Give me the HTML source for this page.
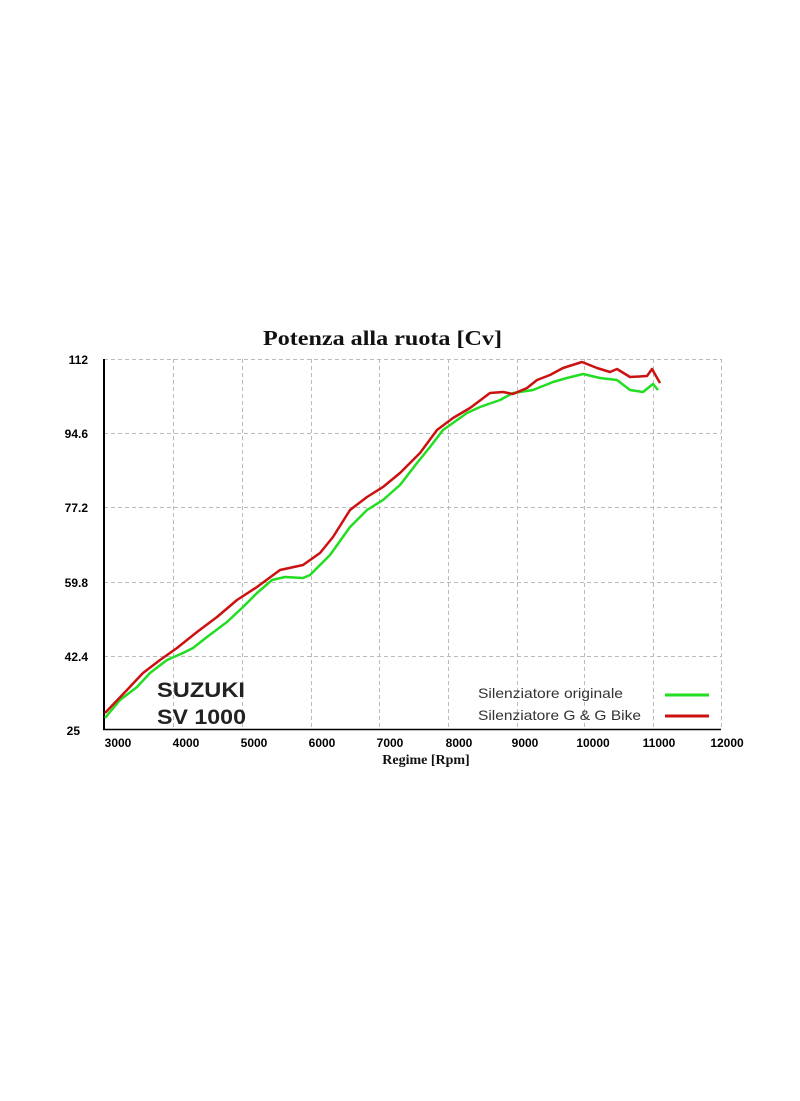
<!DOCTYPE html>
<html><head><meta charset="utf-8"><style>html,body{margin:0;padding:0;background:#fff}</style></head>
<body>
<svg width="800" height="1096" viewBox="0 0 800 1096" xmlns="http://www.w3.org/2000/svg">
<rect width="800" height="1096" fill="#fff"/>
<g stroke="#bbb" stroke-width="1" stroke-dasharray="4,3" fill="none">
<line x1="104" y1="359.5" x2="721" y2="359.5"/>
<line x1="104" y1="433.5" x2="721" y2="433.5"/>
<line x1="104" y1="507.5" x2="721" y2="507.5"/>
<line x1="104" y1="582.5" x2="721" y2="582.5"/>
<line x1="104" y1="656.5" x2="721" y2="656.5"/>
<line x1="173.5" y1="359" x2="173.5" y2="729"/>
<line x1="242.5" y1="359" x2="242.5" y2="729"/>
<line x1="311.5" y1="359" x2="311.5" y2="729"/>
<line x1="379.5" y1="359" x2="379.5" y2="729"/>
<line x1="448.5" y1="359" x2="448.5" y2="729"/>
<line x1="517.5" y1="359" x2="517.5" y2="729"/>
<line x1="584.5" y1="359" x2="584.5" y2="729"/>
<line x1="653.5" y1="359" x2="653.5" y2="729"/>
<line x1="721.5" y1="359" x2="721.5" y2="729"/>
</g>
<line x1="104" y1="359" x2="104" y2="730" stroke="#000" stroke-width="2"/>
<line x1="103" y1="729.5" x2="721" y2="729.5" stroke="#000" stroke-width="1.5"/>
<polyline fill="none" stroke="#22dd22" stroke-width="2.5" stroke-linejoin="round" points="105,718 120,700 137,687 150,673 167,660 183,653 193,648 207,637 227,622 243,607 257,593 272,580 285,577 303,578 310,575 330,555 350,527 367,510 383,500 400,485 417,463 430,447 443,430 467,413 480,407 500,400 513,393 533,390 553,382 567,378 583,374 600,378 617,380 630,390 643,392 653,384 658,390"/>
<polyline fill="none" stroke="#cc1111" stroke-width="2.5" stroke-linejoin="round" points="105,713 127,690 143,673 160,660 177,648 197,632 217,617 237,600 257,587 280,570 303,565 320,553 333,537 350,510 367,497 383,487 400,473 420,453 437,430 453,418 470,408 490,393 503,392 513,394 527,388 537,380 550,375 563,368 582,362 597,368 610,372 617,369 630,377 647,376 652,369 660,383"/>
<g font-family="Liberation Sans, Arial, sans-serif" font-weight="bold" font-size="12" fill="#000">
<text x="88" y="364" text-anchor="end">112</text>
<text x="88" y="438" text-anchor="end">94.6</text>
<text x="88" y="512" text-anchor="end">77.2</text>
<text x="88" y="587" text-anchor="end">59.8</text>
<text x="88" y="661" text-anchor="end">42.4</text>
<text x="80" y="735" text-anchor="end">25</text>
<g text-anchor="middle">
<text x="118" y="747">3000</text><text x="186" y="747">4000</text><text x="254" y="747">5000</text>
<text x="322" y="747">6000</text><text x="390" y="747">7000</text><text x="459" y="747">8000</text>
<text x="525" y="747">9000</text><text x="593" y="747">10000</text><text x="659" y="747">11000</text>
<text x="727" y="747">12000</text>
</g>
</g>
<text x="263" y="345" font-family="Liberation Serif, serif" font-weight="bold" font-size="21" textLength="239" lengthAdjust="spacingAndGlyphs" fill="#111">Potenza alla ruota  [Cv]</text>
<text x="426" y="764" text-anchor="middle" font-family="Liberation Serif, serif" font-weight="bold" font-size="14" fill="#111">Regime [Rpm]</text>
<text x="157" y="697" font-family="Liberation Sans, Arial, sans-serif" font-weight="bold" font-size="21" fill="#222" textLength="88" lengthAdjust="spacingAndGlyphs">SUZUKI</text>
<text x="157" y="724" font-family="Liberation Sans, Arial, sans-serif" font-weight="bold" font-size="21" fill="#222" textLength="89" lengthAdjust="spacingAndGlyphs">SV 1000</text>
<text x="478" y="698" font-family="Liberation Sans, Arial, sans-serif" font-size="14" fill="#333" textLength="145" lengthAdjust="spacingAndGlyphs">Silenziatore originale</text>
<text x="478" y="720" font-family="Liberation Sans, Arial, sans-serif" font-size="14" fill="#333" textLength="163" lengthAdjust="spacingAndGlyphs">Silenziatore G &amp; G Bike</text>
<line x1="665" y1="695" x2="709" y2="695" stroke="#22dd22" stroke-width="3"/>
<line x1="665" y1="716" x2="709" y2="716" stroke="#cc1111" stroke-width="3"/>
</svg>
</body></html>
